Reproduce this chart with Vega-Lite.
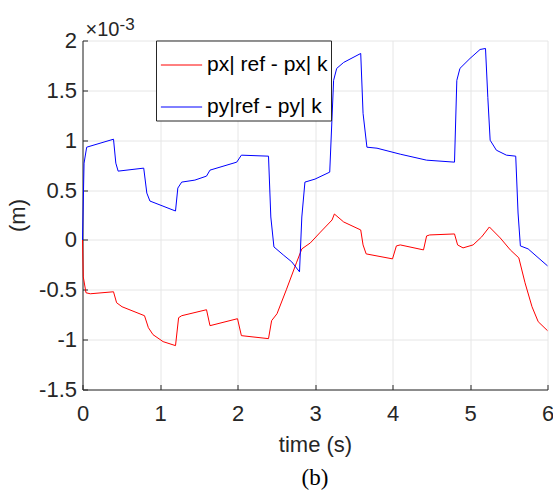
{
  "$schema": "https://vega.github.io/schema/vega-lite/v6.json",
  "width": 465,
  "height": 349,
  "autosize": {"type": "none"},
  "padding": {"left": 82.5, "top": 40.5, "right": 5.5, "bottom": 101},
  "background": "white",
  "title": {"text": "(b)", "orient": "bottom", "font": "Liberation Serif", "fontSize": 23, "fontWeight": "normal", "color": "#000000", "offset": 11, "anchor": "middle"},
  "config": {
    "view": {"stroke": null},
    "font": "Liberation Sans",
    "axis": {
      "labelFont": "Liberation Sans", "labelFontSize": 22, "labelColor": "#262626",
      "titleFont": "Liberation Sans", "titleFontSize": 22, "titleFontWeight": "normal", "titleColor": "#262626",
      "domainColor": "#262626", "tickColor": "#262626", "tickSize": -5,
      "gridColor": "#e6e6e6", "gridWidth": 1
    }
  },
  "datasets": {
    "lines": [
      {"s": "px| ref - px| k", "t": 0, "v": 0},
      {"s": "px| ref - px| k", "t": 0.01, "v": -0.37},
      {"s": "px| ref - px| k", "t": 0.045, "v": -0.53},
      {"s": "px| ref - px| k", "t": 0.10, "v": -0.54},
      {"s": "px| ref - px| k", "t": 0.40, "v": -0.52},
      {"s": "px| ref - px| k", "t": 0.44, "v": -0.63},
      {"s": "px| ref - px| k", "t": 0.51, "v": -0.67},
      {"s": "px| ref - px| k", "t": 0.80, "v": -0.76},
      {"s": "px| ref - px| k", "t": 0.85, "v": -0.88},
      {"s": "px| ref - px| k", "t": 0.91, "v": -0.95},
      {"s": "px| ref - px| k", "t": 1.04, "v": -1.02},
      {"s": "px| ref - px| k", "t": 1.20, "v": -1.06},
      {"s": "px| ref - px| k", "t": 1.24, "v": -0.78},
      {"s": "px| ref - px| k", "t": 1.28, "v": -0.76},
      {"s": "px| ref - px| k", "t": 1.60, "v": -0.70},
      {"s": "px| ref - px| k", "t": 1.645, "v": -0.86},
      {"s": "px| ref - px| k", "t": 2.0, "v": -0.79},
      {"s": "px| ref - px| k", "t": 2.05, "v": -0.96},
      {"s": "px| ref - px| k", "t": 2.40, "v": -0.99},
      {"s": "px| ref - px| k", "t": 2.44, "v": -0.81},
      {"s": "px| ref - px| k", "t": 2.51, "v": -0.74},
      {"s": "px| ref - px| k", "t": 2.63, "v": -0.50},
      {"s": "px| ref - px| k", "t": 2.76, "v": -0.23},
      {"s": "px| ref - px| k", "t": 2.83, "v": -0.09},
      {"s": "px| ref - px| k", "t": 2.94, "v": -0.03},
      {"s": "px| ref - px| k", "t": 3.06, "v": 0.07},
      {"s": "px| ref - px| k", "t": 3.22, "v": 0.20},
      {"s": "px| ref - px| k", "t": 3.25, "v": 0.26},
      {"s": "px| ref - px| k", "t": 3.37, "v": 0.18},
      {"s": "px| ref - px| k", "t": 3.59, "v": 0.10},
      {"s": "px| ref - px| k", "t": 3.62, "v": -0.05},
      {"s": "px| ref - px| k", "t": 3.66, "v": -0.14},
      {"s": "px| ref - px| k", "t": 4.0, "v": -0.19},
      {"s": "px| ref - px| k", "t": 4.05, "v": -0.06},
      {"s": "px| ref - px| k", "t": 4.10, "v": -0.05},
      {"s": "px| ref - px| k", "t": 4.40, "v": -0.10},
      {"s": "px| ref - px| k", "t": 4.44, "v": 0.04},
      {"s": "px| ref - px| k", "t": 4.48, "v": 0.05},
      {"s": "px| ref - px| k", "t": 4.80, "v": 0.06},
      {"s": "px| ref - px| k", "t": 4.84, "v": -0.05},
      {"s": "px| ref - px| k", "t": 4.91, "v": -0.08},
      {"s": "px| ref - px| k", "t": 5.04, "v": -0.05},
      {"s": "px| ref - px| k", "t": 5.15, "v": 0.03},
      {"s": "px| ref - px| k", "t": 5.25, "v": 0.13},
      {"s": "px| ref - px| k", "t": 5.39, "v": 0.02},
      {"s": "px| ref - px| k", "t": 5.52, "v": -0.10},
      {"s": "px| ref - px| k", "t": 5.63, "v": -0.18},
      {"s": "px| ref - px| k", "t": 5.71, "v": -0.43},
      {"s": "px| ref - px| k", "t": 5.80, "v": -0.67},
      {"s": "px| ref - px| k", "t": 5.88, "v": -0.82},
      {"s": "px| ref - px| k", "t": 6.0, "v": -0.91},
      {"s": "py|ref - py| k", "t": 0, "v": 0},
      {"s": "py|ref - py| k", "t": 0.02, "v": 0.77},
      {"s": "py|ref - py| k", "t": 0.054, "v": 0.93},
      {"s": "py|ref - py| k", "t": 0.40, "v": 1.01},
      {"s": "py|ref - py| k", "t": 0.43, "v": 0.77},
      {"s": "py|ref - py| k", "t": 0.46, "v": 0.69},
      {"s": "py|ref - py| k", "t": 0.79, "v": 0.72},
      {"s": "py|ref - py| k", "t": 0.83, "v": 0.47},
      {"s": "py|ref - py| k", "t": 0.87, "v": 0.39},
      {"s": "py|ref - py| k", "t": 1.20, "v": 0.29},
      {"s": "py|ref - py| k", "t": 1.23, "v": 0.52},
      {"s": "py|ref - py| k", "t": 1.28, "v": 0.58},
      {"s": "py|ref - py| k", "t": 1.45, "v": 0.60},
      {"s": "py|ref - py| k", "t": 1.60, "v": 0.64},
      {"s": "py|ref - py| k", "t": 1.645, "v": 0.70},
      {"s": "py|ref - py| k", "t": 1.99, "v": 0.78},
      {"s": "py|ref - py| k", "t": 2.05, "v": 0.85},
      {"s": "py|ref - py| k", "t": 2.40, "v": 0.84},
      {"s": "py|ref - py| k", "t": 2.43, "v": 0.23},
      {"s": "py|ref - py| k", "t": 2.47, "v": -0.07},
      {"s": "py|ref - py| k", "t": 2.59, "v": -0.15},
      {"s": "py|ref - py| k", "t": 2.70, "v": -0.22},
      {"s": "py|ref - py| k", "t": 2.80, "v": -0.32},
      {"s": "py|ref - py| k", "t": 2.83, "v": 0.23},
      {"s": "py|ref - py| k", "t": 2.87, "v": 0.58},
      {"s": "py|ref - py| k", "t": 3.0, "v": 0.61},
      {"s": "py|ref - py| k", "t": 3.19, "v": 0.68},
      {"s": "py|ref - py| k", "t": 3.24, "v": 1.60},
      {"s": "py|ref - py| k", "t": 3.28, "v": 1.72},
      {"s": "py|ref - py| k", "t": 3.37, "v": 1.78},
      {"s": "py|ref - py| k", "t": 3.59, "v": 1.87},
      {"s": "py|ref - py| k", "t": 3.62, "v": 1.27},
      {"s": "py|ref - py| k", "t": 3.67, "v": 0.93},
      {"s": "py|ref - py| k", "t": 3.80, "v": 0.92},
      {"s": "py|ref - py| k", "t": 4.10, "v": 0.86},
      {"s": "py|ref - py| k", "t": 4.44, "v": 0.80},
      {"s": "py|ref - py| k", "t": 4.80, "v": 0.78},
      {"s": "py|ref - py| k", "t": 4.83, "v": 1.60},
      {"s": "py|ref - py| k", "t": 4.87, "v": 1.72},
      {"s": "py|ref - py| k", "t": 5.0, "v": 1.82},
      {"s": "py|ref - py| k", "t": 5.13, "v": 1.91},
      {"s": "py|ref - py| k", "t": 5.20, "v": 1.92},
      {"s": "py|ref - py| k", "t": 5.23, "v": 1.43},
      {"s": "py|ref - py| k", "t": 5.26, "v": 1.00},
      {"s": "py|ref - py| k", "t": 5.34, "v": 0.90},
      {"s": "py|ref - py| k", "t": 5.47, "v": 0.85},
      {"s": "py|ref - py| k", "t": 5.59, "v": 0.84},
      {"s": "py|ref - py| k", "t": 5.62, "v": 0.27},
      {"s": "py|ref - py| k", "t": 5.65, "v": -0.06},
      {"s": "py|ref - py| k", "t": 5.75, "v": -0.09},
      {"s": "py|ref - py| k", "t": 6.0, "v": -0.26}
    ],
    "exp": [{"base": "×10", "sup": "-3"}]
  },
  "layer": [
    {
      "data": {"name": "lines"},
      "mark": {"type": "line", "strokeWidth": 1, "interpolate": "linear"},
      "encoding": {
        "x": {"field": "t", "type": "quantitative", "title": "time (s)",
              "scale": {"domain": [0, 6], "nice": false, "zero": false},
              "axis": {"values": [0, 1, 2, 3, 4, 5, 6], "labelExpr": "'' + datum.value", "labelPadding": 19, "titlePadding": 10, "labelFlush": false}},
        "y": {"field": "v", "type": "quantitative", "title": "(m)",
              "scale": {"domain": [-1.5, 2], "nice": false, "zero": false},
              "axis": {"values": [-1.5, -1, -0.5, 0, 0.5, 1, 1.5, 2], "labelExpr": "'' + datum.value", "labelPadding": 11, "titlePadding": 9, "labelFlush": false}},
        "color": {"field": "s", "type": "nominal", "title": null,
                  "scale": {"domain": ["px| ref - px| k", "py|ref - py| k"], "range": ["#ff0000", "#0000ff"]},
                  "legend": {"orient": "none", "legendX": 73.5, "legendY": 0,
                             "fillColor": "white", "strokeColor": "#262626", "padding": 3,
                             "symbolType": "stroke", "symbolSize": 1700, "symbolStrokeWidth": 1, "symbolOffset": 1,
                             "labelFont": "Liberation Sans", "labelFontSize": 21, "labelColor": "#000000",
                             "labelOffset": 4, "rowPadding": 10, "labelLimit": 300}}
      }
    },
    {
      "data": {"name": "exp"},
      "mark": {"type": "text", "align": "left", "baseline": "alphabetic", "dx": 3, "dy": -5, "fontSize": 20, "font": "Liberation Sans", "color": "#262626"},
      "encoding": {"x": {"datum": 0}, "y": {"datum": 2}, "text": {"field": "base"}}
    },
    {
      "data": {"name": "exp"},
      "mark": {"type": "text", "align": "left", "baseline": "alphabetic", "dx": 37, "dy": -11, "fontSize": 17, "font": "Liberation Sans", "color": "#262626"},
      "encoding": {"x": {"datum": 0}, "y": {"datum": 2}, "text": {"field": "sup"}}
    }
  ]
}
